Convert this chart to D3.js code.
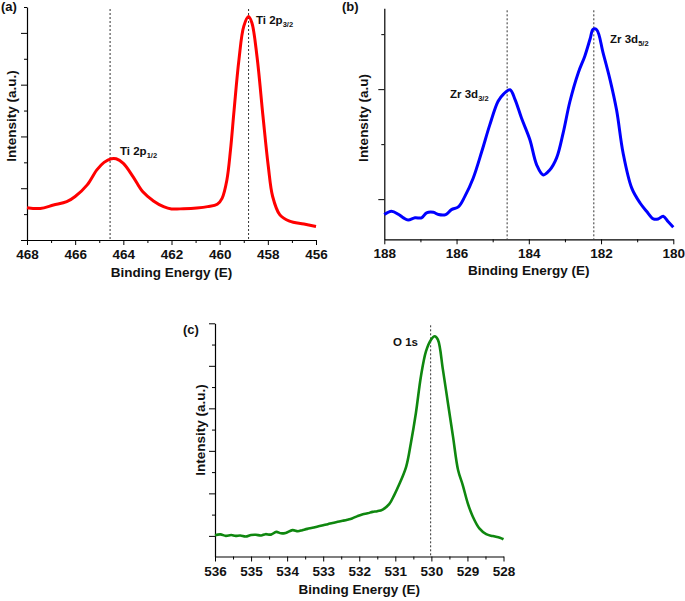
<!DOCTYPE html>
<html>
<head>
<meta charset="utf-8">
<script src="https://cdn.jsdelivr.net/npm/d3@7/dist/d3.min.js"></script>
<style>
  body { margin: 0; background: #fff; }
  svg text { font-family: "Liberation Sans", Arial, sans-serif; font-weight: bold; fill: #111; }
</style>
</head>
<body>
<div id="chart"></div>
<script>

// (a) Ti 2p spectrum
var tiEnergy = [468, 467.45, 466.9, 466.35, 466, 465.5, 465.1, 464.8, 464.5, 464.3, 464, 463.6, 463.2, 462.75, 462.33, 462, 461.5, 460.95, 460.5, 460.1, 459.9, 459.7, 459.55, 459.4, 459.2, 459, 458.8, 458.66, 458.45, 458.2, 457.98, 457.8, 457.5, 457.1, 456.5, 456];
var tiIntensity = [1.25, 1.22, 1.35, 1.48, 1.68, 2.13, 2.71, 3.0, 3.14, 3.14, 2.96, 2.45, 1.87, 1.51, 1.29, 1.2, 1.21, 1.24, 1.29, 1.38, 1.61, 2.32, 3.48, 5.03, 6.96, 8.25, 8.63, 8.38, 7.09, 4.77, 2.84, 1.68, 0.97, 0.73, 0.62, 0.52];

// (b) Zr 3d spectrum
var zrEnergy = [188, 187.8, 187.6, 187.47, 187.34, 187.15, 186.97, 186.83, 186.64, 186.5, 186.3, 186.14, 185.95, 185.77, 185.54, 185.3, 185.08, 184.85, 184.7, 184.52, 184.38, 184.2, 183.97, 183.78, 183.6, 183.42, 183.23, 183.05, 182.86, 182.63, 182.45, 182.3, 182.22, 182.12, 181.94, 181.75, 181.57, 181.39, 181.15, 180.92, 180.74, 180.55, 180.42, 180.28, 180.14, 180];
var zrIntensity = [0.72, 0.78, 0.72, 0.66, 0.62, 0.66, 0.66, 0.75, 0.76, 0.72, 0.72, 0.81, 0.86, 1.05, 1.38, 1.87, 2.35, 2.78, 2.91, 2.99, 2.81, 2.47, 2.08, 1.62, 1.44, 1.53, 1.75, 2.2, 2.78, 3.3, 3.6, 3.92, 4.09, 4.08, 3.65, 3.17, 2.62, 1.84, 1.2, 0.93, 0.78, 0.64, 0.64, 0.69, 0.59, 0.49];

// (c) O 1s spectrum
var oEnergy = [536, 535.85, 535.7, 535.55, 535.43, 535.3, 535.15, 535, 534.87, 534.72, 534.6, 534.45, 534.3, 534.17, 534.04, 533.85, 533.7, 533.58, 533.44, 533.3, 533.15, 533, 532.87, 532.74, 532.6, 532.46, 532.33, 532.2, 532.05, 531.9, 531.77, 531.63, 531.5, 531.35, 531.17, 531.03, 530.9, 530.7, 530.57, 530.43, 530.29, 530.15, 530.01, 529.91, 529.82, 529.68, 529.54, 529.4, 529.26, 529.13, 528.99, 528.85, 528.67, 528.48, 528.3, 528.1, 528];
var oIntensity = [0.03, 0.07, 0.0, 0.04, 0.0, 0.02, -0.03, 0.04, 0.05, 0.02, 0.08, 0.06, 0.19, 0.12, 0.14, 0.27, 0.22, 0.27, 0.33, 0.38, 0.44, 0.5, 0.55, 0.61, 0.66, 0.71, 0.76, 0.82, 0.93, 1.02, 1.06, 1.13, 1.16, 1.24, 1.49, 1.92, 2.39, 3.25, 4.35, 5.77, 7.5, 8.68, 9.23, 9.39, 9.23, 7.82, 6.24, 4.67, 3.1, 2.39, 1.53, 0.9, 0.35, 0.08, -0.01, -0.09, -0.16];

var tiTicks = [468, 467, 466, 465, 464, 463, 462, 461, 460, 459, 458, 457, 456];
var zrTicks = [188, 187, 186, 185, 184, 183, 182, 181, 180];
var oTicks = [536, 535.5, 535, 534.5, 534, 533.5, 533, 532.5, 532, 531.5, 531, 530.5, 530, 529.5, 529, 528.5, 528];

var tiPeaks = [464.55, 458.8];
var zrPeaks = [184.6, 182.2];
var oPeaks = [530.02];

var panels = [
  { tag: '(a)', color: '#ff0000', energy: tiEnergy, intensity: tiIntensity, xTicks: tiTicks, peaks: tiPeaks,
    xDomain: [468, 456], yDomain: [0, 9], yTicks: [0, 1, 2, 3, 4, 5, 6, 7, 8, 9], yMajor: function (v) { return v % 2 === 0; },
    xMajor: function (v) { return v % 2 === 0; },
    left: 27, right: 316, top: 7, bottom: 240, yTitle: 'Intensity (a.u.)', yTitleX: 16, yTitleY: 116, xTitleY: 277,
    tagX: 1, tagY: 11, width: 3,
    labels: [{ text: 'Ti 2p', sub: '1/2', x: 120, y: 155 }, { text: 'Ti 2p', sub: '3/2', x: 256, y: 24 }] },
  { tag: '(b)', color: '#0000ff', energy: zrEnergy, intensity: zrIntensity, xTicks: zrTicks, peaks: zrPeaks,
    xDomain: [188, 180], yDomain: [0.27, 4.47], yTicks: [1, 2, 3, 4], yMajor: function (v) { return v % 2 === 1; },
    xMajor: function (v) { return v % 2 === 0; },
    left: 384.3, right: 673.3, top: 8.3, bottom: 239.3, yTitle: 'Intensity (a.u)', yTitleX: 367.5, yTitleY: 118, xTitleY: 275,
    tagX: 342, tagY: 11, width: 3,
    labels: [{ text: 'Zr 3d', sub: '3/2', x: 450, y: 98 }, { text: 'Zr 3d', sub: '5/2', x: 610, y: 43 }] },
  { tag: '(c)', color: '#0f870f', energy: oEnergy, intensity: oIntensity, xTicks: oTicks, peaks: oPeaks,
    xDomain: [536, 528], yDomain: [-0.97, 10], yTicks: [0, 1, 2, 3, 4, 5, 6, 7, 8, 9, 10], yMajor: function (v) { return v % 2 === 0; },
    xMajor: function (v) { return v % 1 === 0; },
    left: 215, right: 503.5, top: 323.3, bottom: 556.5, yTitle: 'Intensity (a.u.)', yTitleX: 205, yTitleY: 430, xTitleY: 594,
    tagX: 183, tagY: 334, width: 2.6,
    labels: [{ text: 'O 1s', sub: '', x: 393, y: 346 }] }
];

var svg = d3.select('#chart').append('svg')
  .attr('width', 685)
  .attr('height', 601);

panels.forEach(function (p) {

  var x = d3.scaleLinear().domain(p.xDomain).range([p.left, p.right]);
  var y = d3.scaleLinear().domain(p.yDomain).range([p.bottom, p.top]);

  var g = svg.append('g');

  // Axes
  var xAxis = g.append('g')
    .attr('transform', 'translate(0,' + p.bottom + ')')
    .call(d3.axisBottom(x).tickValues(p.xTicks).tickSize(0).tickPadding(0).tickFormat(''));
  xAxis.select('.domain').attr('stroke', '#000').attr('stroke-width', 1.2);
  xAxis.selectAll('.tick line')
    .attr('y2', function (d) { return p.xMajor(d) ? 5 : 3; })
    .attr('stroke', '#000');
  xAxis.selectAll('.tick').filter(function (d) { return p.xMajor(d); })
    .append('text')
      .attr('y', 19)
      .attr('text-anchor', 'middle')
      .style('font-size', '13.5px')
      .text(function (d) { return d; });

  var yAxis = g.append('g')
    .attr('transform', 'translate(' + p.left + ',0)')
    .call(d3.axisLeft(y).tickValues(p.yTicks).tickSize(0).tickFormat(''));
  yAxis.select('.domain').attr('stroke', '#000').attr('stroke-width', 1.2);
  yAxis.selectAll('.tick line')
    .attr('x2', function (d) { return p.yMajor(d) ? -6 : -3; })
    .attr('stroke', '#000');

  // Peak markers
  g.selectAll('.peak')
    .data(p.peaks)
    .enter()
    .append('line')
      .attr('x1', function (d) { return x(d); })
      .attr('x2', function (d) { return x(d); })
      .attr('y1', p.top + 2)
      .attr('y2', p.bottom)
      .attr('stroke', '#333')
      .attr('stroke-width', 1)
      .attr('stroke-dasharray', '2,2');

  // Spectrum
  var pts = p.energy.map(function (e, i) { return [e, p.intensity[i]]; });
  g.append('path')
    .datum(pts)
    .attr('fill', 'none')
    .attr('stroke', p.color)
    .attr('stroke-width', p.width)
    .attr('stroke-linejoin', 'round')
    .attr('d', d3.line()
      .x(function (d) { return x(d[0]); })
      .y(function (d) { return y(d[1]); })
      .curve(d3.curveCatmullRom.alpha(0.5)));

  // Peak labels
  p.labels.forEach(function (l) {
    var t = g.append('text')
      .attr('x', l.x)
      .attr('y', l.y)
      .style('font-size', '11.5px')
      .text(l.text);
    if (l.sub) {
      t.append('tspan')
        .attr('dy', 3)
        .style('font-size', '7.5px')
        .text(l.sub);
    }
  });

  // Titles
  g.append('text')
    .attr('x', (p.left + p.right) / 2)
    .attr('y', p.xTitleY)
    .attr('text-anchor', 'middle')
    .style('font-size', '13.5px')
    .text('Binding Energy (E)');

  g.append('text')
    .attr('transform', 'translate(' + p.yTitleX + ',' + p.yTitleY + ') rotate(-90)')
    .attr('text-anchor', 'middle')
    .style('font-size', '13.5px')
    .text(p.yTitle);

  g.append('text')
    .attr('x', p.tagX)
    .attr('y', p.tagY)
    .style('font-size', '13px')
    .text(p.tag);
});

</script>
</body>
</html>
